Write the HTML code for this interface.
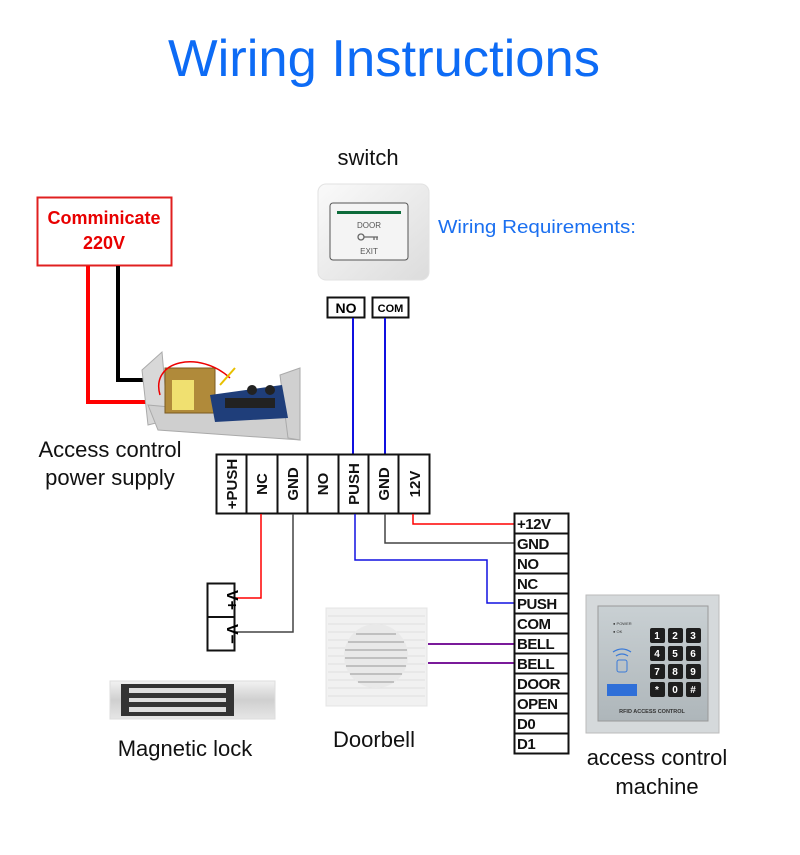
<!DOCTYPE html>
<html><head><meta charset="utf-8"><style>
html,body{margin:0;padding:0;background:#fff;}
svg{display:block;}
text{font-family:"Liberation Sans",sans-serif;}
</style></head><body>
<svg width="800" height="855" viewBox="0 0 800 855" xmlns="http://www.w3.org/2000/svg">
<defs>
<linearGradient id="sw" x1="0" y1="0" x2="1" y2="1"><stop offset="0" stop-color="#fafafa"/><stop offset="1" stop-color="#dcdcdc"/></linearGradient>
<linearGradient id="kp" x1="0" y1="0" x2="0" y2="1"><stop offset="0" stop-color="#c9d0d3"/><stop offset="1" stop-color="#aeb6ba"/></linearGradient>
<linearGradient id="ml" x1="0" y1="0" x2="0" y2="1"><stop offset="0" stop-color="#f2f2f2"/><stop offset="0.5" stop-color="#cfcfcf"/><stop offset="1" stop-color="#e6e6e6"/></linearGradient>
</defs>

<!-- Title -->
<text x="384" y="76" font-size="52" fill="#0d6bf5" text-anchor="middle" textLength="432" lengthAdjust="spacingAndGlyphs">Wiring Instructions</text>
<text x="368" y="165" font-size="22" fill="#111" text-anchor="middle">switch</text>
<text x="438" y="233" font-size="18" fill="#1a6ff0" textLength="198" lengthAdjust="spacingAndGlyphs">Wiring Requirements:</text>

<!-- Switch -->
<rect x="318" y="184" width="111" height="96" rx="8" fill="url(#sw)" stroke="#e2e2e2"/>
<rect x="330" y="203" width="78" height="57" rx="3" fill="#f4f4f4" stroke="#555" stroke-width="1"/>
<rect x="337" y="211" width="64" height="3" fill="#0d6b3a"/>
<text x="369" y="228" font-size="8" fill="#555" text-anchor="middle">DOOR</text>
<circle cx="361" cy="237" r="3" fill="none" stroke="#666" stroke-width="1.3"/>
<path d="M364 237 H378 M374 237 V240 M377 237 V240" stroke="#666" stroke-width="1.3" fill="none"/>
<text x="369" y="254" font-size="8" fill="#555" text-anchor="middle">EXIT</text>

<!-- 220V box -->
<rect x="37.5" y="197.5" width="134" height="68" fill="#fff" stroke="#e02020" stroke-width="2"/>
<text x="104" y="224" font-size="18" font-weight="bold" fill="#e80000" text-anchor="middle">Comminicate</text>
<text x="104" y="249" font-size="18" font-weight="bold" fill="#e80000" text-anchor="middle">220V</text>

<!-- 220V wires -->
<path d="M88 266 V402 H150" stroke="#f00" stroke-width="4" fill="none"/>
<path d="M118 266 V380 H145" stroke="#000" stroke-width="4" fill="none"/>

<!-- power supply -->
<polygon points="142,370 162,352 168,420 148,425" fill="#d8d8d8" stroke="#aaa"/>
<polygon points="148,405 290,418 300,440 158,430" fill="#cfcfcf" stroke="#aaa"/>
<polygon points="280,375 300,368 300,440 288,438" fill="#d0d0d0" stroke="#aaa"/>
<rect x="165" y="368" width="50" height="45" fill="#b08a3a" stroke="#7a5a20"/>
<rect x="172" y="380" width="22" height="30" fill="#f0e070"/>
<polygon points="210,395 282,385 288,418 215,422" fill="#1f3e7a"/>
<rect x="225" y="398" width="50" height="10" fill="#222"/>
<circle cx="252" cy="390" r="5" fill="#222"/><circle cx="270" cy="390" r="5" fill="#222"/>
<path d="M160 395 C150 360 200 350 230 378" stroke="#e00" stroke-width="1.5" fill="none"/>
<path d="M220 385 L235 368" stroke="#e8c000" stroke-width="2"/>

<text x="110" y="457" font-size="22" fill="#111" text-anchor="middle">Access control</text>
<text x="110" y="485" font-size="22" fill="#111" text-anchor="middle">power supply</text>

<!-- NO/COM -->
<rect x="327.5" y="297.5" width="37" height="20" fill="#fff" stroke="#111" stroke-width="2"/>
<text x="346" y="313" font-size="14" font-weight="bold" text-anchor="middle">NO</text>
<rect x="372.5" y="297.5" width="36" height="20" fill="#fff" stroke="#111" stroke-width="2"/>
<text x="390.5" y="312" font-size="11" font-weight="bold" text-anchor="middle">COM</text>
<path d="M353 318 V455 M385 318 V455" stroke="#1010e0" stroke-width="2" fill="none"/>

<!-- terminal block -->
<g stroke="#111" stroke-width="2" fill="#fff">
<rect x="216.5" y="454.5" width="213" height="59"/>
<path d="M246.5 455 V513 M277.5 455 V513 M307.5 455 V513 M338.5 455 V513 M368.5 455 V513 M398.5 455 V513"/>
</g>
<g font-size="15" font-weight="bold" fill="#111" text-anchor="middle">
<text transform="translate(237,484) rotate(-90)">+PUSH</text>
<text transform="translate(267,484) rotate(-90)">NC</text>
<text transform="translate(298,484) rotate(-90)">GND</text>
<text transform="translate(328,484) rotate(-90)">NO</text>
<text transform="translate(359,484) rotate(-90)">PUSH</text>
<text transform="translate(389,484) rotate(-90)">GND</text>
<text transform="translate(420,484) rotate(-90)">12V</text>
</g>

<!-- wires -->
<path d="M413 514 V524 H515" stroke="#f00" stroke-width="1.5" fill="none"/>
<path d="M385 514 V543 H515" stroke="#444" stroke-width="1.5" fill="none"/>
<path d="M355 514 V560 H487 V603 H515" stroke="#1010e0" stroke-width="1.5" fill="none"/>
<path d="M261 514 V598 H235" stroke="#f00" stroke-width="1.5" fill="none"/>
<path d="M293 514 V632 H235" stroke="#444" stroke-width="1.5" fill="none"/>
<path d="M428 644 H515 M428 663 H515" stroke="#7a1a9a" stroke-width="2" fill="none"/>

<!-- V+ V- -->
<rect x="207.5" y="583.5" width="27" height="67" fill="#fff" stroke="#111" stroke-width="2"/>
<path d="M208 617 H234" stroke="#111" stroke-width="2"/>
<g font-size="16" font-weight="bold" text-anchor="middle">
<text transform="translate(227,600) rotate(90)">V+</text>
<text transform="translate(227,634) rotate(90)">V−</text>
</g>

<!-- right strip -->
<rect x="514.5" y="513.5" width="54" height="240" fill="#fff" stroke="#111" stroke-width="2"/>
<g stroke="#111" stroke-width="2">
<path d="M515 533.5 H568 M515 553.5 H568 M515 573.5 H568 M515 593.5 H568 M515 613.5 H568 M515 633.5 H568 M515 653.5 H568 M515 673.5 H568 M515 693.5 H568 M515 713.5 H568 M515 733.5 H568"/>
</g>
<g font-size="15" font-weight="bold" fill="#111" letter-spacing="-0.5">
<text x="517" y="529">+12V</text><text x="517" y="549">GND</text><text x="517" y="569">NO</text>
<text x="517" y="589">NC</text><text x="517" y="609">PUSH</text><text x="517" y="629">COM</text>
<text x="517" y="649">BELL</text><text x="517" y="669">BELL</text><text x="517" y="689">DOOR</text>
<text x="517" y="709">OPEN</text><text x="517" y="729">D0</text><text x="517" y="749">D1</text>
</g>

<!-- doorbell -->
<rect x="326" y="608" width="101" height="98" fill="#f1f1f1" stroke="#e4e4e4"/>
<g stroke="#e0e0e0" stroke-width="1"><path d="M328 616H425M328 624H425M328 632H425M328 640H425M328 648H425M328 656H425M328 664H425M328 672H425M328 680H425M328 688H425M328 696H425"/></g>
<circle cx="376" cy="656" r="32" fill="#e9e9e9"/>
<g stroke="#a8a8a8" stroke-width="1.2"><path d="M356 634H396M348 642H404M345 650H407M345 658H407M346 666H406M350 674H402M358 682H394"/></g>
<text x="374" y="747" font-size="22" fill="#111" text-anchor="middle">Doorbell</text>

<!-- magnetic lock -->
<rect x="110" y="681" width="165" height="38" fill="url(#ml)" stroke="#ddd"/>
<rect x="121" y="684" width="113" height="32" fill="#333"/>
<rect x="129" y="688" width="97" height="5" fill="#ddd"/>
<rect x="129" y="698" width="97" height="4" fill="#ddd"/>
<rect x="129" y="707" width="97" height="5" fill="#ddd"/>
<text x="185" y="756" font-size="22" fill="#111" text-anchor="middle">Magnetic lock</text>

<!-- keypad -->
<rect x="586" y="595" width="133" height="138" fill="#d5d9db" stroke="#bbb"/>
<rect x="598" y="606" width="110" height="115" fill="url(#kp)" stroke="#999"/>
<text x="613" y="625" font-size="4" fill="#333">● POWER</text>
<text x="613" y="633" font-size="4" fill="#333">● OK</text>
<g fill="#1e1e1e">
<rect x="650" y="628" width="15" height="15" rx="2"/><rect x="668" y="628" width="15" height="15" rx="2"/><rect x="686" y="628" width="15" height="15" rx="2"/>
<rect x="650" y="646" width="15" height="15" rx="2"/><rect x="668" y="646" width="15" height="15" rx="2"/><rect x="686" y="646" width="15" height="15" rx="2"/>
<rect x="650" y="664" width="15" height="15" rx="2"/><rect x="668" y="664" width="15" height="15" rx="2"/><rect x="686" y="664" width="15" height="15" rx="2"/>
<rect x="650" y="682" width="15" height="15" rx="2"/><rect x="668" y="682" width="15" height="15" rx="2"/><rect x="686" y="682" width="15" height="15" rx="2"/>
</g>
<g font-size="10" font-weight="bold" fill="#fff" text-anchor="middle">
<text x="657" y="639">1</text><text x="675" y="639">2</text><text x="693" y="639">3</text>
<text x="657" y="657">4</text><text x="675" y="657">5</text><text x="693" y="657">6</text>
<text x="657" y="675">7</text><text x="675" y="675">8</text><text x="693" y="675">9</text>
<text x="657" y="693">*</text><text x="675" y="693">0</text><text x="693" y="693">#</text>
</g>
<path d="M613 652 Q622 646 631 652 M616 656 Q622 652 628 656" stroke="#3a7ad8" stroke-width="1.3" fill="none"/>
<rect x="617" y="660" width="10" height="12" rx="2" fill="none" stroke="#3a7ad8"/>
<rect x="607" y="684" width="30" height="12" fill="#2f6fd8"/>
<text x="652" y="713" font-size="5.5" font-weight="bold" fill="#333" text-anchor="middle">RFID ACCESS CONTROL</text>
<text x="657" y="765" font-size="22" fill="#111" text-anchor="middle">access control</text>
<text x="657" y="794" font-size="22" fill="#111" text-anchor="middle">machine</text>
</svg>
</body></html>
